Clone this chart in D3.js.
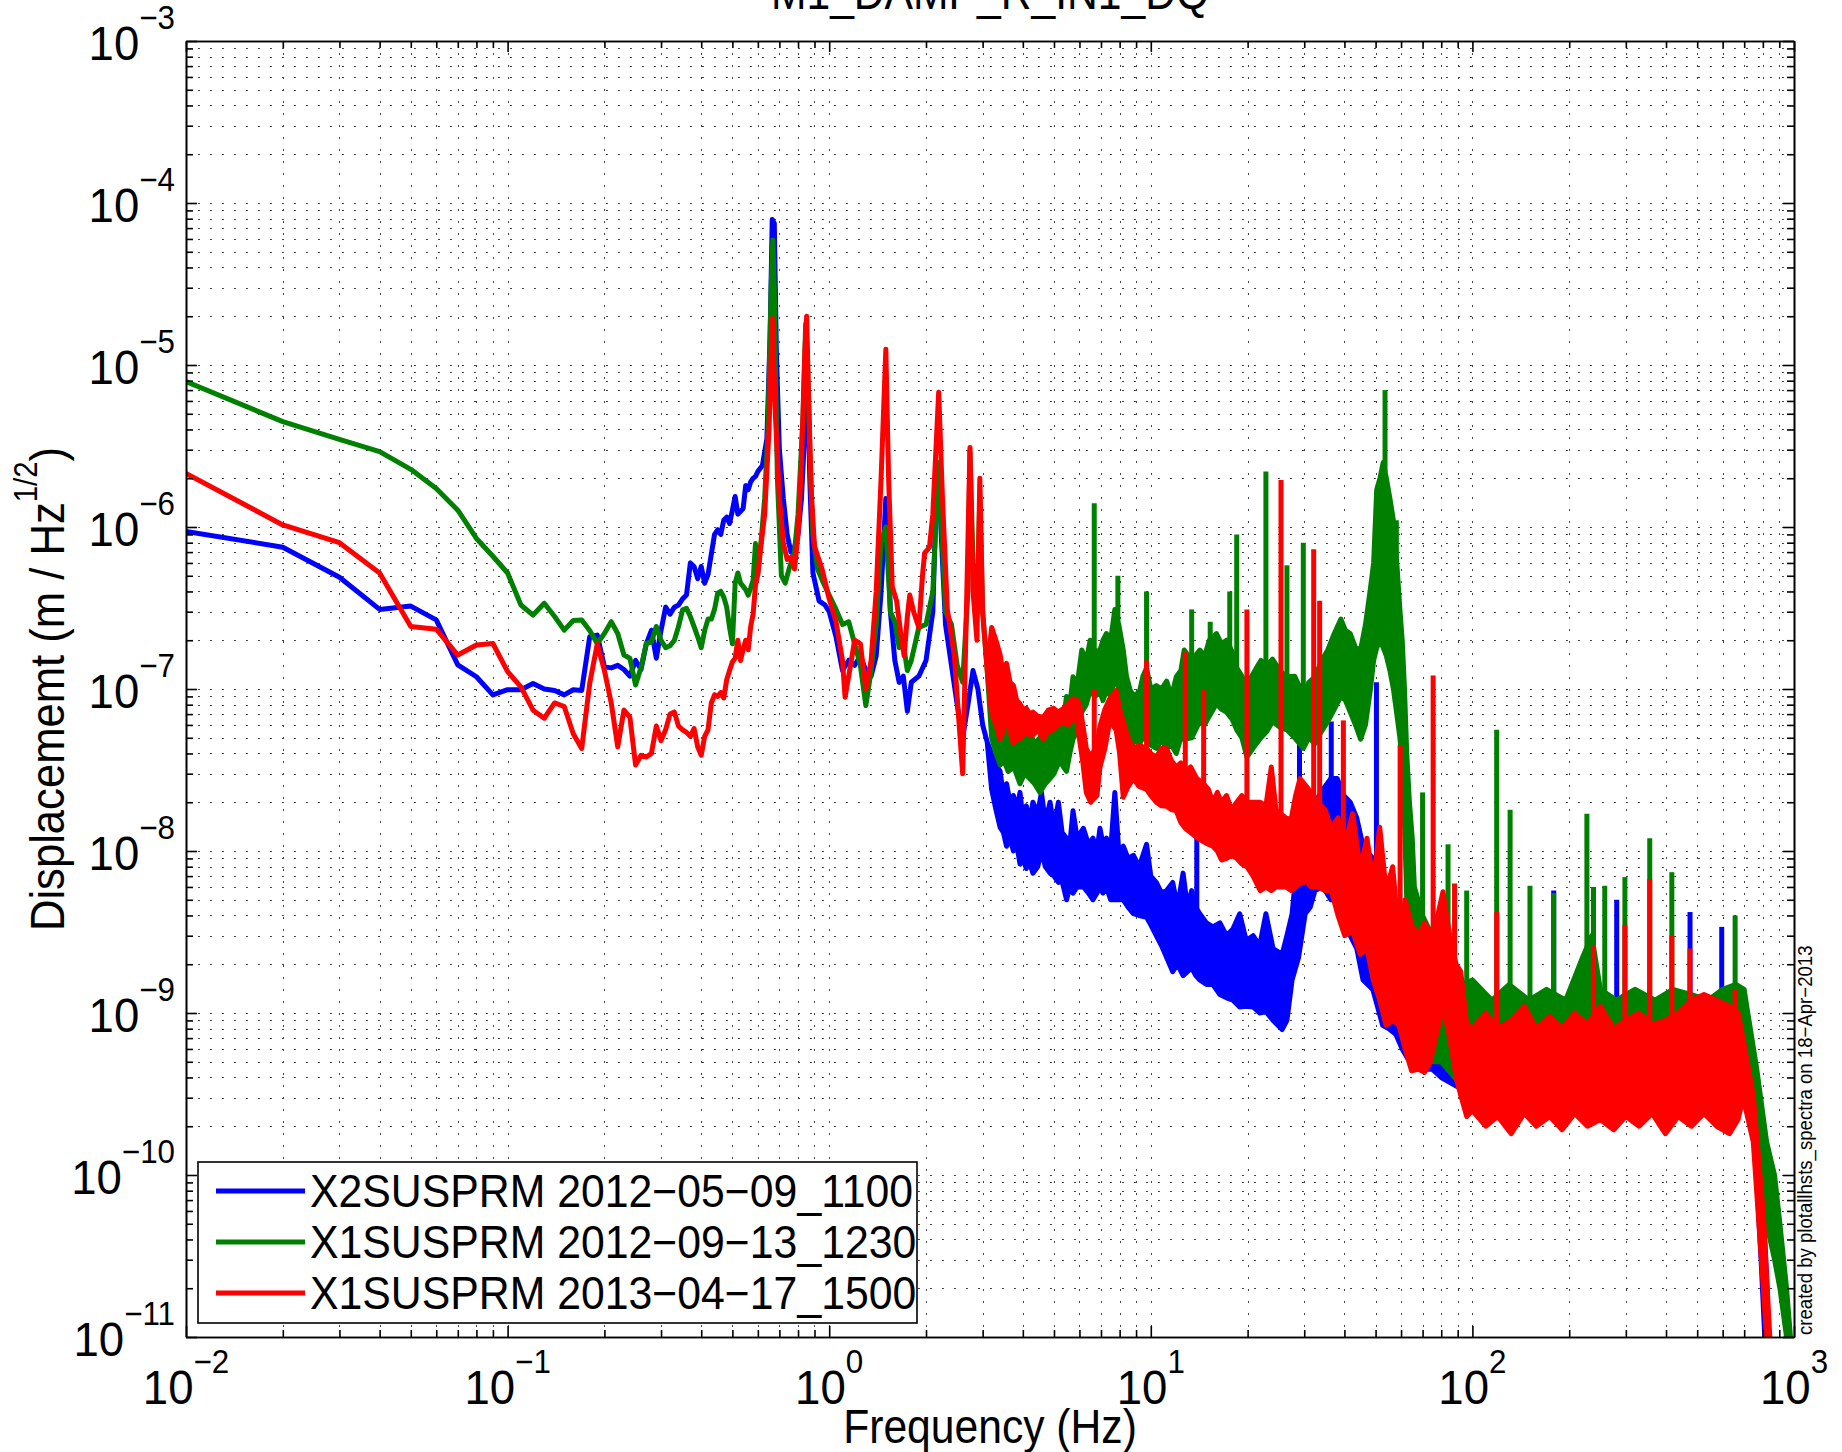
<!DOCTYPE html>
<html>
<head>
<meta charset="utf-8">
<script src="https://cdn.jsdelivr.net/npm/d3@7"></script>
<style>
  body { margin: 0; background: #fff; }
  text { font-family: "Liberation Sans", Arial, Helvetica, sans-serif; fill: #000; }
</style>
</head>
<body>
<svg width="1842" height="1452"></svg>
<script>

// spectra: [freq, value] on the smooth part, [freq, low, high] where the trace is a noisy band
var x2Prm0509 = [
  [0.01,9.4e-7],[0.02,7.5e-7],[0.03,4.9e-7],[0.04,3.1e-7],[0.05,3.25e-7],[0.06,2.67e-7],[0.07,1.41e-7],[0.08,1.19e-7],[0.09,9.2e-8],[0.10,9.9e-8],
  [0.11,9.9e-8],[0.12,1.08e-7],[0.13,1.0e-7],[0.14,9.8e-8],[0.15,9.2e-8],[0.16,9.9e-8],[0.17,9.8e-8],[0.18,2.1e-7],[0.19,2.15e-7],[0.20,1.37e-7],
  [0.21,1.35e-7],[0.22,1.4e-7],[0.23,1.32e-7],[0.24,1.2e-7],[0.25,1.5e-7],[0.26,1.32e-7],[0.27,1.9e-7],[0.28,2.3e-7],[0.29,1.55e-7],[0.30,2.3e-7],
  [0.31,3.2e-7],[0.32,2.9e-7],[0.33,3.2e-7],[0.34,3.3e-7],[0.35,3.6e-7],[0.36,3.8e-7],[0.37,6.0e-7],[0.38,5.7e-7],[0.39,4.8e-7],[0.40,5.7e-7],
  [0.41,4.5e-7],[0.42,5.1e-7],[0.43,6.8e-7],[0.44,9.0e-7],[0.45,9.6e-7],[0.46,9.0e-7],[0.47,1.1e-6],[0.48,1.15e-6],[0.49,1.05e-6],[0.50,1.27e-6],
  [0.51,1.54e-6],[0.52,1.2e-6],[0.53,1.25e-6],[0.54,1.3e-6],[0.55,1.8e-6],[0.56,1.7e-6],[0.57,1.9e-6],[0.58,2.0e-6],[0.59,2.05e-6],[0.60,2.2e-6],
  [0.62,2.4e-6],[0.64,3.5e-6],[0.655,1.5e-5],[0.665,7.9e-5],[0.675,7.5e-5],[0.685,1.2e-5],[0.70,3.0e-6],[0.72,1.5e-6],[0.74,9e-7],[0.76,7e-7],
  [0.78,7.5e-7],[0.80,9e-7],[0.82,1.5e-6],[0.84,4e-6],[0.85,8e-6],[0.86,6e-6],[0.87,2e-6],[0.89,5.2e-7],[0.93,3.5e-7],[0.97,3.3e-7],
  [1.0,3.0e-7],[1.05,2.1e-7],[1.1,1.3e-7],[1.15,1.5e-7],[1.2,1.4e-7],[1.25,1.6e-7],[1.3,1.3e-7],[1.35,1.2e-7],[1.4,1.6e-7],[1.45,4e-7],
  [1.5,1.5e-6],[1.55,3e-7],[1.6,1.5e-7],[1.65,1.1e-7],[1.7,1.2e-7],[1.75,7.3e-8],[1.8,1.1e-7],[1.9,1.2e-7],[2.0,1.5e-7],[2.1,3.0e-7],
  [2.15,1.5e-6],[2.19,2.3e-6],[2.23,9e-7],[2.3,2.5e-7],[2.4,1.4e-7],[2.5,8e-8],[2.6,5e-8],[2.7,8e-8],[2.8,1.3e-7],[2.9,1.0e-7],
  [3.0,6e-8],[3.1,4.7e-8],
  [3.2,2.4e-8,4e-8],[3.3,1.8e-8,3.4e-8],[3.4,1.4e-8,3.1e-8],[3.48,1.3e-8,2.2e-8],[3.56,1.07e-8,2.6e-8],[3.65,1.2e-8,2.0e-8],[3.74,1.0e-8,2.2e-8],
  [3.83,1.1e-8,1.8e-8],[3.92,8.3e-9,2.3e-8],[4.0,9e-9,1.6e-8],[4.1,7.8e-9,1.9e-8],[4.2,8.5e-9,1.5e-8],[4.3,7.3e-9,2.0e-8],[4.45,8e-9,1.7e-8],
  [4.57,1.0e-8,2.3e-8],[4.7,8e-9,1.5e-8],[4.86,7.3e-9,2.0e-8],[5.0,7e-9,1.4e-8],[5.16,6.4e-9,2.0e-8],[5.3,6.5e-9,1.3e-8],[5.47,5e-9,1.2e-8],
  [5.6,6e-9,1.1e-8],[5.73,5.5e-9,1.77e-8],[5.9,6e-9,1.2e-8],[6.17,6e-9,1.38e-8],[6.4,5.5e-9,1.1e-8],[6.61,5e-9,1.2e-8],[6.8,5.5e-9,1.0e-8],
  [6.95,6e-9,1.38e-8],[7.1,5.5e-9,1.1e-8],[7.28,6e-9,1.2e-8],[7.5,5e-9,1.0e-8],[7.73,5e-9,2.3e-8],[7.95,5e-9,1.0e-8],[8.21,5e-9,1.07e-8],
  [8.5,4.5e-9,9e-9],[8.83,4.1e-9,9.4e-9],[9.2,4e-9,8e-9],[9.7,3.9e-9,1.1e-8],[10.0,3.5e-9,7e-9],[10.4,3.0e-9,6.4e-9],[10.8,2.6e-9,5.5e-9],
  [11.2,2.2e-9,5.7e-9],[11.7,1.8e-9,6.4e-9],[12.1,2e-9,4.5e-9],[12.6,1.7e-9,7.3e-9],[13.0,1.8e-9,4.5e-9],[13.4,1.9e-9,5.7e-9],[13.8,1.7e-9,4.5e-9],
  [14.2,1.6e-9,4.1e-9],[14.9,1.5e-9,3.6e-9],[15.6,1.5e-9,3.4e-9],[16.4,1.3e-9,3.6e-9],[17.2,1.24e-9,3.0e-9],[18.0,1.2e-9,3.3e-9],[18.9,1.09e-9,4.1e-9],
  [19.8,1.1e-9,2.8e-9],[20.8,1.09e-9,3.0e-9],[21.8,1.0e-9,2.6e-9],[22.8,1.02e-9,4.1e-9],[24.0,9e-10,2.5e-9],[25.6,7.9e-10,2.3e-9],[26.5,9e-10,3e-9],
  [27.5,1.6e-9,4.1e-9],[28.8,2.2e-9,1.07e-8],[30.2,4.1e-9,1.07e-8],[31.3,4.5e-9,1.3e-8],[32.4,5.7e-9,2.0e-8],[34.3,6e-9,2.4e-8],[36.3,5e-9,2.8e-8],
  [38,6e-9,2.8e-8],[39.8,5.5e-9,2.2e-8],[41.7,3e-9,2.0e-8],[43.7,2.5e-9,1.6e-8],[45.7,1.6e-9,1.07e-8],[49,1.4e-9,9e-9],[52.6,8.4e-10,5.7e-9],
  [55,8e-10,5e-9],[57.8,7.4e-10,5e-9],[60.5,6e-10,3.5e-9],[63.4,5.1e-10,2.6e-9],[66,5e-10,2.2e-9],[70,4.5e-10,2e-9],[75,4.5e-10,1.8e-9],
  [80,4e-10,1.6e-9],[90,3.5e-10,1.3e-9],[100,3e-10,1.1e-9],[120,2.8e-10,1e-9],[150,2.8e-10,9e-10],[200,2.8e-10,9e-10],[350,2.8e-10,9e-10],
  [550,2.8e-10,9e-10],[650,2.8e-10,1e-9],[700,3e-10,9e-10],[750,2e-10,5e-10],[790,3e-11,1.2e-10],[825,5e-12,2e-11]
];

var x1Prm0913 = [
  [0.01,7.9e-6],[0.02,4.47e-6],[0.03,3.47e-6],[0.04,2.92e-6],[0.05,2.27e-6],[0.06,1.73e-6],[0.07,1.27e-6],[0.08,8.5e-7],[0.09,6.6e-7],[0.10,5.2e-7],
  [0.11,3.3e-7],[0.12,2.86e-7],[0.13,3.38e-7],[0.14,2.8e-7],[0.15,2.31e-7],[0.16,2.65e-7],[0.17,2.67e-7],[0.18,2.3e-7],[0.19,1.91e-7],[0.20,2.2e-7],
  [0.21,2.6e-7],[0.22,2.2e-7],[0.23,1.62e-7],[0.24,1.55e-7],[0.25,1.06e-7],[0.26,1.36e-7],[0.27,1.91e-7],[0.28,1.95e-7],[0.29,2.43e-7],[0.30,2.0e-7],
  [0.31,1.8e-7],[0.32,1.85e-7],[0.33,2.0e-7],[0.34,2.43e-7],[0.35,3.08e-7],[0.36,3.15e-7],[0.37,2.8e-7],[0.38,2.43e-7],[0.39,2.1e-7],[0.40,1.8e-7],
  [0.41,2.3e-7],[0.42,2.7e-7],[0.43,2.7e-7],[0.44,3.1e-7],[0.45,3.9e-7],[0.46,4.0e-7],[0.47,3.7e-7],[0.48,3.2e-7],[0.49,2.4e-7],[0.50,1.9e-7],
  [0.51,4.5e-7],[0.52,5.2e-7],[0.53,4.5e-7],[0.54,4.3e-7],[0.55,4.1e-7],[0.56,3.8e-7],[0.57,4.2e-7],[0.58,4.7e-7],[0.59,7.9e-7],[0.60,5.2e-7],
  [0.61,7e-7],[0.63,1.5e-6],[0.645,4e-6],[0.66,3e-5],[0.668,5.9e-5],[0.675,3e-5],[0.69,2e-6],[0.71,5e-7],[0.73,4.5e-7],[0.75,5.5e-7],
  [0.78,7e-7],[0.80,1.2e-6],[0.83,5e-6],[0.845,1.8e-5],[0.855,1.2e-5],[0.87,3e-6],[0.89,9e-7],[0.92,5.5e-7],[0.96,4.5e-7],[1.0,3.8e-7],
  [1.05,3.1e-7],[1.1,2.5e-7],[1.15,2.6e-7],[1.2,1.9e-7],[1.25,1.4e-7],[1.3,7.9e-8],[1.35,1.3e-7],[1.4,2.5e-7],[1.45,8e-7],[1.5,1.0e-6],
  [1.55,3e-7],[1.6,2.6e-7],[1.65,1.8e-7],[1.7,1.9e-7],[1.75,1.3e-7],[1.8,1.5e-7],[1.9,2.4e-7],[2.0,2.5e-7],[2.1,4e-7],[2.19,2.5e-6],
  [2.3,3e-7],[2.4,2.5e-7],[2.5,1.4e-7],[2.6,1.1e-7],[2.7,4e-7],[2.74,2.9e-6],[2.8,6e-7],[2.88,3e-7],[2.94,1.5e-6],[3.0,3e-7],[3.1,1.3e-7],
  [3.2,5e-8,1.3e-7],[3.3,4e-8,1.1e-7],[3.4,3.4e-8,9e-8],[3.5,3.6e-8,6e-8],[3.6,3.1e-8,6.5e-8],[3.75,3.3e-8,5.2e-8],[3.92,2.6e-8,5.6e-8],
  [4.05,3e-8,4.8e-8],[4.2,2.8e-8,5.5e-8],[4.35,2.6e-8,4.6e-8],[4.52,2.3e-8,5e-8],[4.7,2.6e-8,4.5e-8],[4.86,2.8e-8,5.6e-8],[5.0,3e-8,6e-8],
  [5.2,3.6e-8,7.2e-8],[5.35,3.3e-8,6.5e-8],[5.47,3.1e-8,9e-8],[5.6,4e-8,8e-8],[5.73,4.9e-8,1.19e-7],[5.9,5.5e-8,1.05e-7],[6.1,7.2e-8,1.74e-7],
  [6.3,8e-8,1.5e-7],[6.48,9.8e-8,2.0e-7],[6.7,9e-8,1.7e-7],[6.95,9.5e-8,1.74e-7],[7.1,8.5e-8,2.0e-7],[7.28,9.8e-8,2.2e-7],[7.5,9e-8,2.0e-7],
  [7.73,1.2e-7,3.1e-7],[7.95,1.0e-7,2.5e-7],[8.21,7.2e-8,1.74e-7],[8.4,5.5e-8,1.2e-7],[8.63,4.3e-8,9.8e-8],[8.9,4.8e-8,9e-8],[9.24,4.6e-8,9.8e-8],
  [9.45,5e-8,1.2e-7],[9.7,4.9e-8,1.35e-7],[10.0,4.5e-8,1.0e-7],[10.4,4.3e-8,1.05e-7],[10.8,4.8e-8,1.0e-7],[11.2,4.3e-8,1.12e-7],[11.6,4.5e-8,9e-8],
  [12.0,4e-8,1.19e-7],[12.4,5e-8,1.3e-7],[12.7,4.9e-8,1.74e-7],[13.4,5e-8,1.5e-7],[14.2,6.3e-8,1.74e-7],[14.7,6e-8,1.6e-7],[15.2,6.8e-8,2.0e-7],
  [16,8.1e-8,2.2e-7],[16.6,7.5e-8,1.9e-7],[17.2,7.2e-8,2.0e-7],[17.9,6.5e-8,1.7e-7],[18.5,5.6e-8,1.35e-7],[19.2,5e-8,1.2e-7],[19.9,3.8e-8,9.8e-8],
  [20.6,4.2e-8,1.2e-7],[21.3,4.6e-8,1.35e-7],[22.0,5e-8,1.5e-7],[23,5.5e-8,1.4e-7],[23.9,6.3e-8,1.53e-7],[25.2,5.8e-8,1.3e-7],[26.5,5.6e-8,1.19e-7],
  [28,5e-8,1.2e-7],[29.8,4.3e-8,9.2e-8],[31,5e-8,1.1e-7],[32.4,4.6e-8,1.19e-7],[34,5.5e-8,1.5e-7],[35.5,6.3e-8,1.74e-7],[37.2,7.5e-8,2.2e-7],
  [39,9e-8,2.7e-7],[40.3,8.5e-8,2.3e-7],[41.7,7.2e-8,2.2e-7],[43.3,6e-8,1.8e-7],[44.9,4.9e-8,1.74e-7],[46.5,6e-8,2.5e-7],[48.2,1.0e-7,4.2e-7],
  [49.3,1.5e-7,6e-7],[50.4,1.8e-7,1.7e-6],[51.6,2e-7,2.0e-6],[52.8,1.8e-7,2.5e-6],[54,1.6e-7,2.0e-6],[55.4,1.3e-7,1.5e-6],[56.8,1e-7,1.1e-6],
  [58.2,7e-8,6e-7],[59.5,5e-8,3.1e-7],[60.5,3.5e-8,2e-7],[61.5,1.5e-8,1e-7],[62.5,5e-9,4e-8],[63.7,3e-9,2.0e-8],[65,1.5e-9,1.2e-8],
  [66,6e-10,6e-9],[70,5e-10,4e-9],[75,5e-10,3e-9],[80,5e-10,2.5e-9],[88,4e-10,2e-9],[94,3.5e-10,1.5e-9],[100,4e-10,1.6e-9],[115,3.5e-10,1.2e-9],
  [130,3.5e-10,1.5e-9],[150,3.5e-10,1.2e-9],[170,3.5e-10,1.4e-9],[195,3.5e-10,1.2e-9],[220,3.5e-10,2.2e-9],[235,3.5e-10,3e-9],[250,3.5e-10,1.4e-9],
  [280,3.5e-10,1.2e-9],[320,3.5e-10,1.4e-9],[370,3.5e-10,1.2e-9],[420,3.5e-10,1.4e-9],[480,3.5e-10,1.3e-9],[540,3.5e-10,1.2e-9],[600,3.5e-10,1.4e-9],
  [660,3.5e-10,1.5e-9],[700,4e-10,1.4e-9],[713,3e-10,1.1e-9],[766,1.5e-10,4.5e-10],[822,5e-11,1.6e-10],[870,3e-11,1e-10],[904,2e-11,5e-11],
  [948,1e-11,2e-11],[975,5e-12,1e-11]
];

var x1Prm0417 = [
  [0.01,2.14e-6],[0.02,1.03e-6],[0.03,8.0e-7],[0.04,5.2e-7],[0.05,2.43e-7],[0.06,2.34e-7],[0.07,1.62e-7],[0.08,1.87e-7],[0.09,1.91e-7],[0.10,1.28e-7],
  [0.11,1.03e-7],[0.12,7.4e-8],[0.13,6.6e-8],[0.14,8.2e-8],[0.15,7.8e-8],[0.16,5.3e-8],[0.17,4.3e-8],[0.18,1.08e-7],[0.19,1.9e-7],[0.20,1.3e-7],
  [0.21,8.2e-8],[0.22,4.4e-8],[0.23,7.4e-8],[0.24,6.7e-8],[0.25,3.4e-8],[0.26,3.9e-8],[0.27,3.8e-8],[0.28,4.0e-8],[0.29,5.9e-8],[0.30,4.8e-8],
  [0.31,5.6e-8],[0.32,7.0e-8],[0.33,7.2e-8],[0.34,5.9e-8],[0.35,5.6e-8],[0.36,5.4e-8],[0.37,5.1e-8],[0.38,5.7e-8],[0.39,4.4e-8],[0.40,3.9e-8],
  [0.41,5.1e-8],[0.42,5.6e-8],[0.43,8.2e-8],[0.44,9.2e-8],[0.45,9.0e-8],[0.46,9.5e-8],[0.47,8.8e-8],[0.48,1.14e-7],[0.49,1.3e-7],[0.50,1.47e-7],
  [0.51,1.55e-7],[0.52,2.0e-7],[0.53,1.5e-7],[0.54,1.75e-7],[0.55,2.0e-7],[0.56,1.75e-7],[0.57,2.43e-7],[0.58,2.9e-7],[0.59,4.4e-7],[0.60,5.1e-7],
  [0.61,7e-7],[0.63,1.2e-6],[0.65,4e-6],[0.665,1.94e-5],[0.68,5e-6],[0.70,1.5e-6],[0.72,8e-7],[0.74,6.3e-7],[0.76,6.5e-7],[0.78,5.5e-7],
  [0.80,9e-7],[0.82,2.5e-6],[0.84,1.2e-5],[0.851,2.0e-5],[0.86,8e-6],[0.88,1.6e-6],[0.90,7.6e-7],[0.95,5.5e-7],[1.0,3.6e-7],[1.05,2.6e-7],
  [1.1,1.5e-7],[1.12,8.9e-8],[1.15,1.2e-7],[1.2,2.0e-7],[1.25,1.9e-7],[1.3,1.0e-7],[1.35,1.5e-7],[1.4,4e-7],[1.45,2e-6],[1.5,1.25e-5],
  [1.53,2e-6],[1.57,4.3e-7],[1.62,3.5e-7],[1.67,2.2e-7],[1.71,1.6e-7],[1.75,2.8e-7],[1.78,3.8e-7],[1.83,3e-7],[1.9,2.4e-7],[1.95,5e-7],
  [1.98,6.9e-7],[2.05,7.5e-7],[2.1,1.2e-6],[2.19,6.8e-6],[2.25,1.5e-6],[2.33,3.1e-7],[2.45,1.6e-7],[2.5,9e-8],[2.6,3.0e-8],[2.65,1.5e-7],
  [2.74,3.1e-6],[2.8,4e-7],[2.88,2e-7],[2.94,2.0e-6],[3.0,3e-7],[3.1,1.3e-7],
  [3.2,7e-8,2.4e-7],[3.3,6e-8,2e-7],[3.4,4.9e-8,1.63e-7],[3.48,5.5e-8,1.2e-7],[3.56,7.2e-8,1.44e-7],[3.65,5.5e-8,1.1e-7],[3.74,4.6e-8,1.05e-7],
  [3.83,5e-8,8.5e-8],[3.92,4.9e-8,8.1e-8],[4.0,5.2e-8,7.5e-8],[4.1,5.6e-8,7.6e-8],[4.2,5.2e-8,7e-8],[4.3,5.2e-8,7.2e-8],[4.45,5.6e-8,6.8e-8],
  [4.63,4.9e-8,6.7e-8],[4.8,5.5e-8,7.4e-8],[4.98,5.6e-8,7.6e-8],[5.16,6e-8,7.2e-8],[5.36,6.3e-8,7.6e-8],[5.55,6e-8,8.1e-8],[5.73,6.7e-8,8.7e-8],
  [5.9,6.3e-8,8.5e-8],[6.0,4.9e-8,8.1e-8],[6.15,3.5e-8,6e-8],[6.3,2.3e-8,4.3e-8],[6.5,2.0e-8,3.8e-8],[6.8,2.2e-8,4.5e-8],[6.95,3.3e-8,5.9e-8],
  [7.2,4.3e-8,7.5e-8],[7.45,6.3e-8,8.7e-8],[7.8,5.6e-8,9.8e-8],[8.0,4e-8,7.5e-8],[8.21,2.15e-8,6.3e-8],[8.5,2.5e-8,5e-8],[8.83,2.8e-8,4.3e-8],
  [9.2,2.5e-8,4.5e-8],[9.7,2.4e-8,4.3e-8],[10.0,2.2e-8,4.0e-8],[10.4,2.0e-8,3.8e-8],[10.8,1.9e-8,4.3e-8],[11.2,1.89e-8,4.3e-8],[11.6,1.8e-8,3.6e-8],
  [12.0,1.77e-8,3.3e-8],[12.4,1.5e-8,3.5e-8],[12.8,1.38e-8,3.1e-8],[13.3,1.3e-8,3.3e-8],[13.9,1.21e-8,2.8e-8],[14.6,1.14e-8,2.6e-8],
  [15.1,1.1e-8,2.4e-8],[15.6,1.07e-8,2.0e-8],[16.1,1.0e-8,2.3e-8],[16.6,8.8e-9,2.0e-8],[17.2,9e-9,2.2e-8],[17.8,9.4e-9,1.8e-8],[18.5,9e-9,2.0e-8],
  [19.2,8.3e-9,2.2e-8],[19.9,8e-9,2.0e-8],[20.8,7e-9,2.0e-8],[21.9,5.7e-9,2.0e-8],[22.8,6e-9,1.9e-8],[23.7,5.7e-9,3.3e-8],[24.5,6e-9,1.8e-8],
  [26.3,6e-9,1.6e-8],[27.3,5.7e-9,1.56e-8],[28.2,6e-9,2.2e-8],[29.1,6.3e-9,2.8e-8],[30.5,6.5e-9,2.5e-8],[31.5,6e-9,2.3e-8],[33,6e-9,2e-8],
  [34.8,5.7e-9,1.8e-8],[36.4,5.7e-9,1.38e-8],[38.2,4e-9,1.6e-8],[40.1,3e-9,1.07e-8],[42.4,3.2e-9,1.7e-8],[44.8,2.3e-9,7.8e-9],[47,2.5e-9,1.2e-8],
  [49.2,1.6e-9,6.4e-9],[51.5,1.2e-9,1.4e-8],[53.9,8.4e-10,5.7e-9],[56.5,9e-10,8e-9],[59.1,8.4e-10,3e-9],[61.8,6e-10,5e-9],[64.7,4.4e-10,3.5e-9],
  [68,4.5e-10,3e-9],[71,4.3e-10,3.6e-9],[74,5e-10,3e-9],[78,8e-10,4e-9],[81,1.1e-9,5.6e-9],[85,7e-10,3e-9],[89,4e-10,2e-9],[92,3.1e-10,1.8e-9],
  [96,2.3e-10,8.5e-10],[100,2.5e-10,8e-10],[110,2e-10,1e-9],[120,2.3e-10,8e-10],[132,1.8e-10,9e-10],[145,2.4e-10,1.1e-9],[158,2e-10,8e-10],
  [174,2.3e-10,9.5e-10],[190,1.9e-10,8e-10],[208,2.4e-10,1e-9],[228,2e-10,8.5e-10],[250,2.2e-10,1.1e-9],[275,1.9e-10,8e-10],[300,2.3e-10,9e-10],
  [330,2e-10,1e-9],[362,2.4e-10,8.5e-10],[398,1.8e-10,9e-10],[436,2.3e-10,1e-9],[480,2e-10,1.2e-9],[525,2.4e-10,1.3e-9],[575,2e-10,1.2e-9],
  [630,1.8e-10,1.1e-9],[670,2.2e-10,1e-9],[695,3e-10,6.9e-10],[747,1.6e-10,3.1e-10],[803,2e-11,5.7e-11],[841,5e-12,1e-11]
];

// narrow lines sticking out of the noise: [freq, peak value]
var x2Spikes = [[13.9,1.26e-8],[29,8e-8],[36.4,6.3e-8],[50.3,1.1e-7],[179,5.7e-9],[281,5e-9],[475,4.2e-9],[596,3.4e-9]];
var x1Spikes0913 = [[6.67,1.4e-6],[7.9,5e-7],[9.7,4e-7],[13.4,3.1e-7],[15.3,2.6e-7],[17.6,4e-7],[18.5,9e-7],[22.8,2.2e-6],[26.5,5.8e-7],
  [29.8,8e-7],[53.5,7e-6],[58,1.1e-6],[70,2.3e-8],[84,1.1e-8],[96,5.7e-9],[119,5.6e-8],[131,1.8e-8],[151,6.1e-9],[179,5.5e-9],[227,1.7e-8],
  [238,6e-9],[258,6.1e-9],[298,6.9e-9],[356,1.2e-8],[417,7.4e-9],[656,4e-9],[893,5.8e-11]];
var x1Spikes0417 = [[6.67,1e-7],[9.7,1.5e-7],[12.8,1.7e-7],[14.6,1e-7],[19.9,3.1e-7],[25.4,1.95e-6],[32.1,7.3e-7],[33.5,3.5e-7],[39.7,6.4e-8],
  [59.6,4.5e-8],[75.5,1.21e-7],[88,6.3e-9],[119,4.2e-9],[238,2.6e-9],[298,3.5e-9],[356,6.7e-9],[417,3e-9],[475,2.5e-9],[656,1.4e-9]];

var seriesNames = ["X2SUSPRM 2012\u221205\u221209_1100", "X1SUSPRM 2012\u221209\u221213_1230", "X1SUSPRM 2013\u221204\u221217_1500"];
var xTickExps = [-2, -1, 0, 1, 2, 3];
var yTickExps = [-11, -10, -9, -8, -7, -6, -5, -4, -3];

var chartTitle = "M1_DAMP_R_IN1_DQ";
var xTitle = "Frequency (Hz)";
var yTitle = "Displacememt (m / Hz";
var footNote = "created by plotallhsts_spectra on 18\u2212Apr\u22122013";

var colors = ["#0000ff", "#008000", "#ff0000"];

var svg = d3.select("svg"),
    margin = {top: 41, right: 48, bottom: 115, left: 186},
    width = +svg.attr("width") - margin.left - margin.right,
    height = +svg.attr("height") - margin.top - margin.bottom,
    g = svg.append("g").attr("transform", "translate(" + margin.left + "," + margin.top + ")");

var x = d3.scaleLog().domain([1e-2, 1e3]).range([0, width]);
var y = d3.scaleLog().domain([1e-11, 1e-3]).range([height, 0]);

function isMajor(v) { var l = Math.log10(v); return Math.abs(l - Math.round(l)) < 1e-6; }
var xMajor = x.ticks().filter(isMajor), xMinor = x.ticks().filter(function(v) { return !isMajor(v); });
var yMajor = y.ticks().filter(isMajor), yMinor = y.ticks().filter(function(v) { return !isMajor(v); });

// dotted grid, matlab style
var grid = g.append("g").attr("stroke", "#444").attr("stroke-width", 1).attr("stroke-dasharray", "2,10");
grid.selectAll(".gx").data(x.ticks()).enter().append("line")
    .attr("x1", function(d) { return Math.round(x(d)) + 0.5; })
    .attr("x2", function(d) { return Math.round(x(d)) + 0.5; })
    .attr("y1", 0).attr("y2", height);
grid.selectAll(".gy").data(y.ticks()).enter().append("line")
    .attr("y1", function(d) { return Math.round(y(d)) + 0.5; })
    .attr("y2", function(d) { return Math.round(y(d)) + 0.5; })
    .attr("x1", 0).attr("x2", width);

g.append("defs").append("clipPath")
    .attr("id", "clip")
  .append("rect")
    .attr("width", width)
    .attr("height", height);

function toRows(arr) {
  return arr.map(function(d) { return {f: d[0], lo: d[1], hi: d.length > 2 ? d[2] : d[1]}; });
}

// top of the band at f, used as the foot of a spike
function bandTop(rows, f) {
  for (var i = 0; i < rows.length - 1; i++) {
    if (rows[i].f <= f && rows[i + 1].f >= f) {
      var t = (Math.log(f) - Math.log(rows[i].f)) / (Math.log(rows[i + 1].f) - Math.log(rows[i].f));
      return Math.exp(Math.log(rows[i].hi) + t * (Math.log(rows[i + 1].hi) - Math.log(rows[i].hi)));
    }
  }
  return rows[rows.length - 1].hi;
}

var area = d3.area()
    .x(function(d) { return x(d.f); })
    .y0(function(d) { return y(d.lo); })
    .y1(function(d) { return y(d.hi); });

var traces = [[x2Prm0509, x2Spikes], [x1Prm0913, x1Spikes0913], [x1Prm0417, x1Spikes0417]];

var plot = g.append("g").attr("clip-path", "url(#clip)");

traces.forEach(function(t, i) {
  var rows = toRows(t[0]);
  var sg = plot.append("g");
  sg.append("path")
      .datum(rows)
      .attr("d", area)
      .attr("fill", colors[i])
      .attr("stroke", colors[i])
      .attr("stroke-width", 5)
      .attr("stroke-linejoin", "round");
  sg.selectAll(".spike").data(t[1]).enter().append("line")
      .attr("x1", function(d) { return x(d[0]); })
      .attr("x2", function(d) { return x(d[0]); })
      .attr("y1", function(d) { return y(bandTop(rows, d[0])); })
      .attr("y2", function(d) { return y(d[1]); })
      .attr("stroke", colors[i])
      .attr("stroke-width", 5);
});

// box + inward ticks on all four sides
function tickAxis(axis, vals, len, tr) {
  var a = g.append("g").attr("transform", tr)
      .call(axis.tickValues(vals).tickSize(-len).tickSizeOuter(0).tickFormat(""));
  a.selectAll("path, line").attr("stroke", "#000").attr("stroke-width", 1.6);
}
tickAxis(d3.axisBottom(x), xMinor, 7, "translate(0," + height + ")");
tickAxis(d3.axisBottom(x), xMajor, 11, "translate(0," + height + ")");
tickAxis(d3.axisTop(x), xMinor, 7, null);
tickAxis(d3.axisTop(x), xMajor, 11, null);
tickAxis(d3.axisLeft(y), yMinor, 7, null);
tickAxis(d3.axisLeft(y), yMajor, 11, null);
tickAxis(d3.axisRight(y), yMinor, 7, "translate(" + width + ",0)");
tickAxis(d3.axisRight(y), yMajor, 11, "translate(" + width + ",0)");

function expText(e) { return e < 0 ? "\u2212" + (-e) : String(e); }

function powLabel(parent, px, py, e, anchor) {
  var t = parent.append("text")
      .attr("transform", "translate(" + px + "," + py + ") scale(0.95,1)")
      .attr("text-anchor", anchor)
      .style("font-size", "48px");
  t.append("tspan").text("10");
  t.append("tspan").attr("dy", -31).style("font-size", "33px").text(expText(e));
}

xTickExps.forEach(function(e) { powLabel(g, x(Math.pow(10, e)), height + 67, e, "middle"); });
yTickExps.forEach(function(e) { powLabel(g, -11, y(Math.pow(10, e)) + 19, e, "end"); });

// titles
svg.append("text")
    .attr("transform", "translate(990,9) scale(0.87,1)")
    .attr("text-anchor", "middle")
    .style("font-size", "49px")
    .text(chartTitle);

svg.append("text")
    .attr("transform", "translate(990,1443) scale(0.87,1)")
    .attr("text-anchor", "middle")
    .style("font-size", "49px")
    .text(xTitle);

var yt = svg.append("text")
    .attr("transform", "translate(64,689) rotate(-90) scale(0.89,1)")
    .attr("text-anchor", "middle")
    .style("font-size", "49px");
yt.append("tspan").text(yTitle);
yt.append("tspan").attr("dy", -27).style("font-size", "33px").text("1/2");
yt.append("tspan").attr("dy", 27).text(")");

svg.append("text")
    .attr("transform", "translate(1812,1335) rotate(-90) scale(0.93,1)")
    .style("font-size", "20px")
    .text(footNote);

// legend
var leg = svg.append("g").attr("transform", "translate(198,1162)");
leg.append("rect")
    .attr("width", 719).attr("height", 161)
    .attr("fill", "#fff").attr("stroke", "#000").attr("stroke-width", 1.6);
seriesNames.forEach(function(name, i) {
  var ly = 29 + i * 51;
  leg.append("line")
      .attr("x1", 18).attr("x2", 107).attr("y1", ly).attr("y2", ly)
      .attr("stroke", colors[i]).attr("stroke-width", 5);
  leg.append("text")
      .attr("transform", "translate(112," + (ly + 16) + ") scale(0.93,1)")
      .style("font-size", "46px")
      .text(name);
});

</script>
</body>
</html>
